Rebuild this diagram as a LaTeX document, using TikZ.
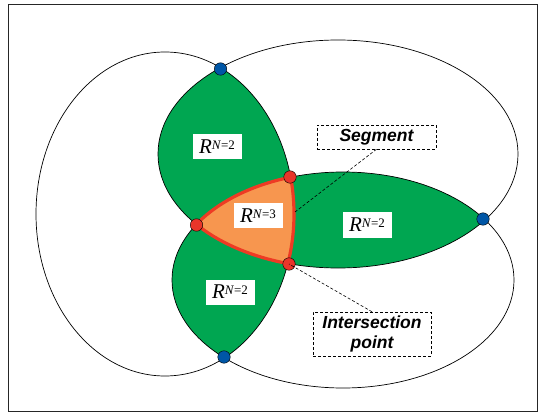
\documentclass[tikz,border=0pt]{standalone}
\usepackage{fontspec}
\setmainfont{Liberation Serif}
\setsansfont{Liberation Sans}
\usepackage{tikz}
\definecolor{lensgreen}{HTML}{00A651}
\definecolor{coreorange}{HTML}{F7964F}
\definecolor{edgered}{HTML}{EE3B24}
\definecolor{dotblue}{HTML}{0056A6}
\definecolor{dotred}{HTML}{E8352A}

\newcommand{\regionlabel}[1]{{\fontsize{21}{21}\selectfont\textit{R}}\raisebox{1.0ex}{\fontsize{13}{13}\selectfont\textit{N}=#1}}

\begin{document}
\begin{tikzpicture}[x=1pt, y=-1pt,
  ellA/.style={x radius=129pt, y radius=162pt},
  ellB/.style={x radius=180pt, y radius=114pt},
  ellC/.style={x radius=171pt, y radius=108pt},
  dot/.style={circle, draw=black, line width=0.4pt, inner sep=0pt, minimum size=12.5pt},
  bluedot/.style={dot, fill=dotblue},
  reddot/.style={dot, fill=dotred},
  regionbox/.style={fill=white, inner sep=0pt, minimum width=49pt, minimum height=25pt},
  calloutbox/.style={draw, densely dashed, line width=0.5pt, fill=white, inner sep=0pt, align=center,
    font=\sffamily\bfseries\itshape\fontsize{17.5}{19.5}\selectfont},
  leader/.style={densely dashed, line width=0.6pt}]
  \useasboundingbox (0,0) rectangle (538,414);
  \draw[line width=0.7pt, black!85] (8,4) rectangle (537,411);

  \coordinate (cA) at (165,214);
  \coordinate (cB) at (338,154);
  \coordinate (cC) at (343,280);

  % two-circle overlaps
  \begin{scope}
    \clip (cA) ellipse[ellA];
    \fill[lensgreen] (cB) ellipse[ellB];
    \fill[lensgreen] (cC) ellipse[ellC];
  \end{scope}
  \begin{scope}
    \clip (cB) ellipse[ellB];
    \fill[lensgreen] (cC) ellipse[ellC];
  \end{scope}
  % three-circle overlap
  \begin{scope}
    \clip (cA) ellipse[ellA];
    \clip (cB) ellipse[ellB];
    \fill[coreorange] (cC) ellipse[ellC];
  \end{scope}

  \draw[line width=0.7pt] (cA) ellipse[ellA];
  \draw[line width=0.7pt] (cB) ellipse[ellB];
  \draw[line width=0.7pt] (cC) ellipse[ellC];

  % segments of the core region
  \begin{scope}
    \clip (cA) ellipse[ellA];
    \clip (cB) ellipse[ellB];
    \draw[edgered, line width=3.2pt] (cC) ellipse[ellC];
  \end{scope}
  \begin{scope}
    \clip (cB) ellipse[ellB];
    \clip (cC) ellipse[ellC];
    \draw[edgered, line width=3.2pt] (cA) ellipse[ellA];
  \end{scope}
  \begin{scope}
    \clip (cA) ellipse[ellA];
    \clip (cC) ellipse[ellC];
    \draw[edgered, line width=3.2pt] (cB) ellipse[ellB];
  \end{scope}

  \node[regionbox] (r_top) at (217,147) {\regionlabel{2}};
  \node[regionbox] (r_core) at (258,216) {\regionlabel{3}};
  \node[regionbox] (r_right) at (367,225) {\regionlabel{2}};
  \node[regionbox] (r_bottom) at (230,292) {\regionlabel{2}};

  \node[bluedot] (top_blue) at (220.5,69) {};
  \node[bluedot] (bot_blue) at (224,357) {};
  \node[bluedot] (right_blue) at (483,219) {};
  \node[reddot] (left_red) at (196.5,225) {};
  \node[reddot] (top_red) at (290,177) {};
  \node[reddot] (bot_red) at (289,264) {};

  \node[calloutbox, minimum width=119pt, minimum height=24pt] (seg_box) at (376.5,137) {Segment};
  \node[calloutbox, minimum width=118pt, minimum height=44pt] (int_box) at (372,334) {Intersection\\point};
  \coordinate (seg_end) at (295,212);

  \draw[leader] (seg_box.south) -- (seg_end);
  \draw[leader] (int_box.north) -- (bot_red.center);
\end{tikzpicture}
\end{document}
